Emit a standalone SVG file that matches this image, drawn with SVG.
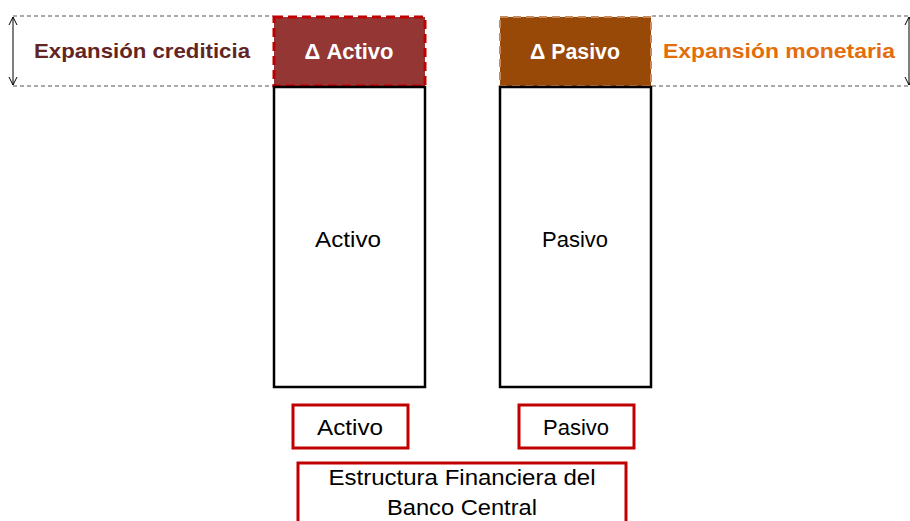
<svg xmlns="http://www.w3.org/2000/svg" width="910" height="521" viewBox="0 0 910 521">
<style>
text{font-family:"Liberation Sans",Arial,sans-serif;}
.guide{fill:none;stroke:#555;stroke-width:1;stroke-dasharray:4,3;}
.big{fill:#fff;stroke:#000;stroke-width:2.5;}
.lbl{fill:#fff;stroke:#C00000;stroke-width:3;}
.t{font-size:22px;fill:#000;text-anchor:middle;}
.d{font-size:22px;font-weight:bold;fill:#fff;text-anchor:middle;}
.arr{stroke:#000;stroke-width:1;fill:none;}
</style>
<defs>
<marker id="open" markerWidth="10" markerHeight="10" refX="9" refY="5" orient="auto-start-reverse" markerUnits="userSpaceOnUse" viewBox="0 0 10 10">
<path d="M1,1 L9,5 L1,9" fill="none" stroke="#000" stroke-width="1"/>
</marker>
</defs>
<g id="connectors">
<line class="guide" x1="13" y1="16" x2="273" y2="16"/>
<line class="guide" x1="13" y1="86" x2="273" y2="86"/>
<line class="guide" x1="652" y1="16" x2="908" y2="16"/>
<line class="guide" x1="652" y1="86" x2="908" y2="86"/>
<line class="arr" x1="13" y1="17" x2="13" y2="85" marker-start="url(#open)" marker-end="url(#open)"/>
<line class="arr" x1="909" y1="17" x2="909" y2="85" marker-start="url(#open)" marker-end="url(#open)"/>
</g>
<g id="expansion-crediticia">
<text x="142" y="58" font-size="21" font-weight="bold" fill="#632523" text-anchor="middle" textLength="216" lengthAdjust="spacingAndGlyphs">Expansión crediticia</text>
</g>
<g id="delta-activo">
<rect x="274" y="17" width="151" height="69" fill="#943634" stroke="#C00000" stroke-width="3" stroke-dasharray="9,5"/>
<text class="d" x="349" y="59" textLength="89" lengthAdjust="spacingAndGlyphs">Δ Activo</text>
</g>
<g id="activo">
<rect class="big" x="274" y="87" width="151" height="300"/>
<text class="t" x="348" y="247" textLength="66" lengthAdjust="spacingAndGlyphs">Activo</text>
</g>
<g id="delta-pasivo">
<rect x="500" y="17" width="151" height="69" fill="#984807" stroke="#C8895A" stroke-width="2" stroke-dasharray="8,5"/>
<text class="d" x="575" y="59" textLength="90" lengthAdjust="spacingAndGlyphs">Δ Pasivo</text>
</g>
<g id="pasivo">
<rect class="big" x="500" y="87" width="151" height="300"/>
<text class="t" x="575" y="247" textLength="66" lengthAdjust="spacingAndGlyphs">Pasivo</text>
</g>
<g id="expansion-monetaria">
<text x="779" y="58" font-size="21" font-weight="bold" fill="#E46C0A" text-anchor="middle" textLength="232" lengthAdjust="spacingAndGlyphs">Expansión monetaria</text>
</g>
<g id="label-activo">
<rect class="lbl" x="293" y="405" width="115" height="43"/>
<text class="t" x="350" y="435" textLength="66" lengthAdjust="spacingAndGlyphs">Activo</text>
</g>
<g id="label-pasivo">
<rect class="lbl" x="519" y="405" width="115" height="43"/>
<text class="t" x="576" y="435" textLength="66" lengthAdjust="spacingAndGlyphs">Pasivo</text>
</g>
<g id="estructura">
<rect class="lbl" x="298" y="463" width="328" height="62"/>
<text class="t" x="462" y="485" textLength="267" lengthAdjust="spacingAndGlyphs">Estructura Financiera del</text>
<text class="t" x="462" y="515" textLength="150" lengthAdjust="spacingAndGlyphs">Banco Central</text>
</g>
</svg>
